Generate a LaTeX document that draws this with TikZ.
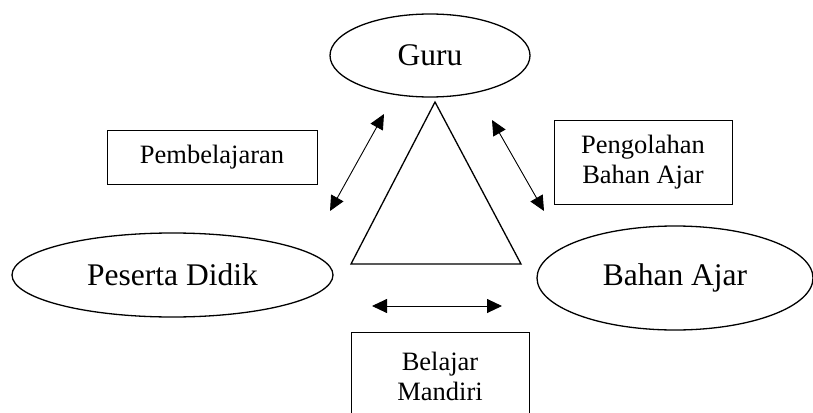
\documentclass[tikz,border=0pt]{standalone}
\usepackage{fontspec}
\setmainfont{Liberation Serif}
\usetikzlibrary{shapes.geometric,arrows.meta}
\begin{document}
\begin{tikzpicture}[x=1pt,y=-1pt,
  oval/.style={ellipse,draw,line width=1.3pt,inner sep=0pt,font=\fontsize{31.5}{36}\selectfont},
  lbl/.style={draw,line width=1pt,inner sep=0pt,align=center,font=\fontsize{26.5}{30.5}\selectfont},
  dbl/.style={{Triangle[length=15pt,width=14pt]}-{Triangle[length=15pt,width=14pt]},line width=0.9pt},
  tri/.style={draw,line width=1.3pt,line join=miter}]
\useasboundingbox (0,0) rectangle (813,412);
\clip (0,0) rectangle (813,412);
% ellipses
\node[oval,minimum width=200pt,minimum height=83pt] (guru) at (430,55.5) {Guru};
\node[oval,minimum width=321pt,minimum height=84pt] (siswa) at (172.5,275) {Peserta Didik};
\node[oval,minimum width=276pt,minimum height=104pt] (bahan) at (675,278) {Bahan Ajar};
% label boxes
\node[lbl,minimum width=210pt,minimum height=54pt] (pemb) at (212,157) {Pembelajaran};
\node[lbl,minimum width=178pt,minimum height=84pt] (peng) at (643,162) {Pengolahan\\Bahan Ajar};
\node[lbl,minimum width=178pt,minimum height=89pt] (bel) at (440,376.5) {Belajar\\Mandiri};
% triangle
\coordinate (ta) at (435,102);
\coordinate (tl) at (351,264);
\coordinate (tr) at (521,264);
\draw[tri] (ta) -- (tl) -- (tr) -- cycle;
% arrows
\coordinate (a1) at (384,114);
\coordinate (a2) at (330,211);
\coordinate (b1) at (492,120);
\coordinate (b2) at (544,211);
\coordinate (c1) at (372,306);
\coordinate (c2) at (502,306);
\draw[dbl] (a1) -- (a2);
\draw[dbl] (b1) -- (b2);
\draw[dbl] (c1) -- (c2);
\end{tikzpicture}
\end{document}
